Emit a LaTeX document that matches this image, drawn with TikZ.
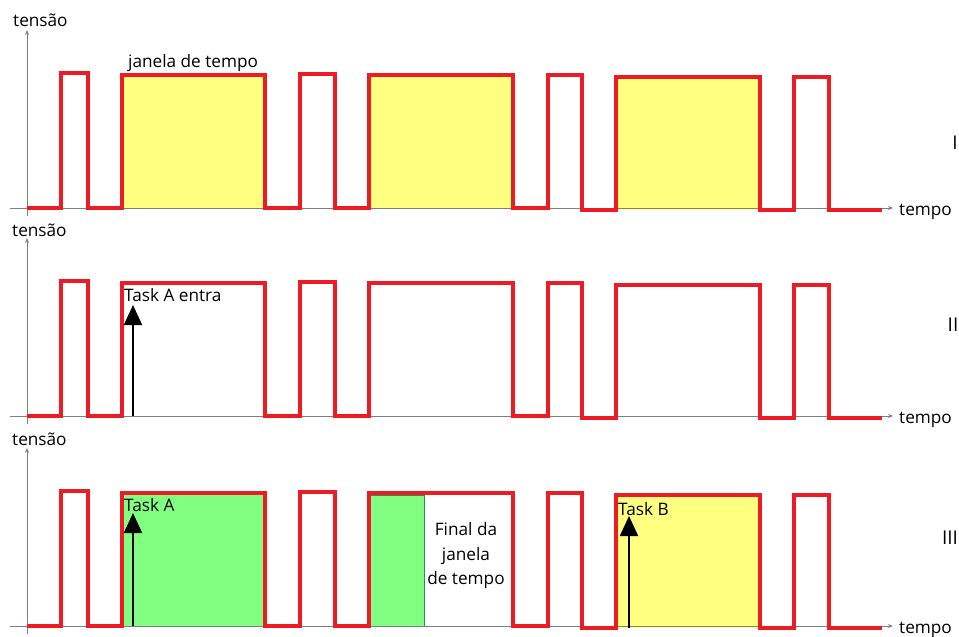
\documentclass[tikz,border=0pt]{standalone}
\usepackage{fontspec}
\setmainfont{Open Sans}
\usetikzlibrary{arrows.meta}
\definecolor{sig}{HTML}{ED1C24}
\definecolor{yel}{HTML}{FFFF80}
\definecolor{grn}{HTML}{80FF80}
\definecolor{grnb}{HTML}{2E8B57}
\definecolor{axisc}{HTML}{808080}
\tikzset{
  signal/.style={draw=sig, line width=3.8pt, line join=miter},
  axisline/.style={draw=axisc, line width=1pt, -{Stealth[length=5pt,width=4pt]}},
  lbl/.style={font=\fontsize{17.2}{20}\selectfont, inner sep=0pt},
  roman/.style={font=\fontsize{19}{22}\selectfont, inner sep=0pt},
  taskarrow/.style={line width=2pt, -{Triangle[width=18pt,length=20pt]}},
  yfill/.style={fill=yel},
  gfill/.style={fill=grn}
}
\newcommand\mysignal{(27,208) -- (61,208) -- (61,73) -- (88,73) -- (88,208) -- (122,208) -- (122,75) -- (265,75) -- (265,208) -- (300,208) -- (300,74) -- (335,74) -- (335,208) -- (369,208) -- (369,75) -- (513,75) -- (513,208) -- (548,208) -- (548,75) -- (582,75) -- (582,210) -- (616,210) -- (616,77) -- (760,77) -- (760,210) -- (794,210) -- (794,77) -- (829,77) -- (829,210) -- (882,210)}
\newcommand\myaxes[1]{%
  \coordinate (#1xs) at (10,208);
  \coordinate (#1xe) at (893,208);
  \coordinate (#1ys) at (27,216);
  \coordinate (#1ye) at (27,30);
  \draw[axisline] (#1xs) -- (#1xe);
  \draw[axisline] (#1ys) -- (#1ye);
  \node[lbl, anchor=base west] (#1tempo) at (899,215) {tempo};
}
\begin{document}
\begin{tikzpicture}[x=1pt,y=-1pt]
\useasboundingbox (0,0) rectangle (959,637);
\fill[white] (0,0) rectangle (959,637);

% ---------- Panel I ----------
\begin{scope}
  \fill[yfill] (122,75) rectangle (265,208);
  \fill[yfill] (369,75) rectangle (513,208);
  \fill[yfill] (616,77) rectangle (760,210);
  \myaxes{a}
  \draw[signal] \mysignal;
  \node[lbl, anchor=base west] (atens) at (13,26) {tensão};
  \node[lbl, anchor=base west] (ajan) at (128,67) {janela de tempo};
  \node[roman] (aI) at (955,143) {I};
\end{scope}

% ---------- Panel II ----------
\begin{scope}[yshift=-208pt]
  \myaxes{b}
  \draw[signal] \mysignal;
  \node[lbl, anchor=base west] (btens) at (12,28) {tensão};
  \coordinate (bta0) at (133,208);
  \coordinate (bta1) at (133,97);
  \draw[taskarrow] (bta0) -- (bta1);
  \node[lbl, anchor=base west] (btask) at (124,93) {Task A entra};
  \node[roman] (bII) at (953,117) {II};
\end{scope}

% ---------- Panel III ----------
\begin{scope}[yshift=-418pt]
  \fill[gfill] (122,75) rectangle (265,208);
  \filldraw[gfill, draw=grnb, line width=0.6pt] (369,77) rectangle (424,208);
  \fill[yfill] (616,77) rectangle (760,210);
  \myaxes{c}
  \draw[signal] \mysignal;
  \node[lbl, anchor=base west] (ctens) at (12,27) {tensão};
  \coordinate (cta0) at (133,208);
  \coordinate (cta1) at (133,95);
  \draw[taskarrow] (cta0) -- (cta1);
  \node[lbl, anchor=base west] (ctaskA) at (124,93) {Task A};
  \coordinate (ctb0) at (629,210);
  \coordinate (ctb1) at (629,98);
  \draw[taskarrow] (ctb0) -- (ctb1);
  \node[lbl, anchor=base west] (ctaskB) at (618,97) {Task B};
  \node[lbl, anchor=base, align=center] (cfin1) at (466,117) {Final da};
  \node[lbl, anchor=base, align=center] (cfin2) at (466,142) {janela};
  \node[lbl, anchor=base, align=center] (cfin3) at (466,166) {de tempo};
  \node[roman] (cIII) at (950,120) {III};
\end{scope}
\end{tikzpicture}
\end{document}
